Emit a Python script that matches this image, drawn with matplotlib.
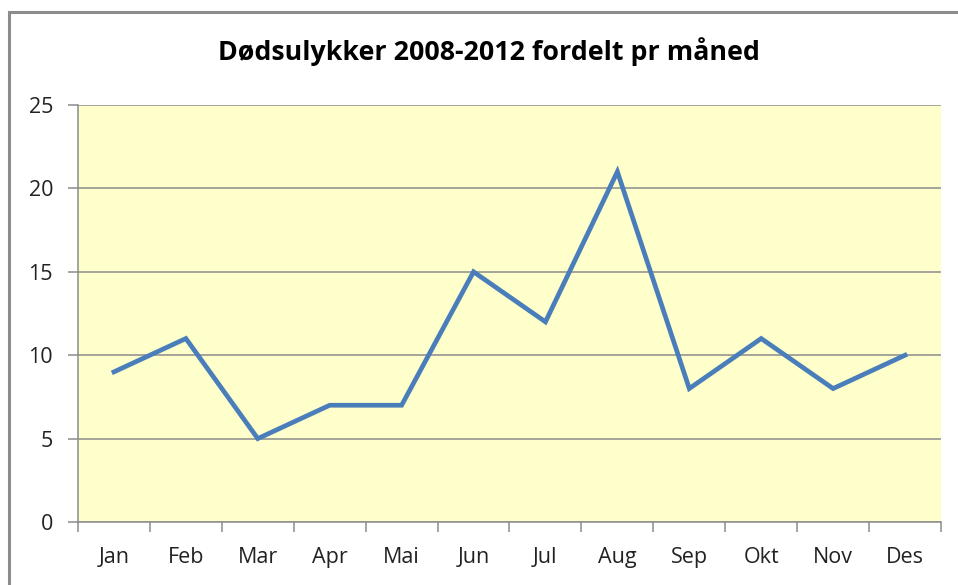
import matplotlib
matplotlib.use("Agg")
import matplotlib.pyplot as plt
from matplotlib.patches import Rectangle

# monthly fatal accidents 2008-2012
months = ["Jan", "Feb", "Mar", "Apr", "Mai", "Jun", "Jul", "Aug", "Sep", "Okt", "Nov", "Des"]
deaths = [9, 11, 5, 7, 7, 15, 12, 21, 8, 11, 8, 10]
yticks = [0, 5, 10, 15, 20, 25]

plt.rcParams["font.family"] = ["Open Sans", "DejaVu Sans"]

fig = plt.figure(figsize=(9.58, 5.85), dpi=100)

# outer chart border (cut off on right and bottom)
fig.patches.append(Rectangle((9 / 958, -0.2), 1.2, 1.2 - 12 / 585,
                             transform=fig.transFigure, fill=False,
                             edgecolor="#8c8c8c", linewidth=2.2))

ax = fig.add_axes([78 / 958, 1 - 522 / 585, (941 - 78) / 958, (522 - 105) / 585])
ax.set_facecolor("#FFFFCC")

x = list(range(len(months)))
ax.plot(x, deaths, color="#4a7ebb", linewidth=3.4, solid_joinstyle="miter", zorder=3)

ax.set_xlim(-0.5, len(months) - 0.5)
ax.set_ylim(0, 25)
ax.set_yticks(yticks)
ax.set_yticklabels([str(v) for v in yticks])
ax.yaxis.grid(True, color="#8c8c8c", linewidth=1.1)
ax.set_axisbelow(True)

# category ticks at boundaries, labels at centers
ax.set_xticks([i - 0.5 for i in range(len(months) + 1)])
ax.set_xticklabels([])
ax.set_xticks(x, minor=True)
ax.set_xticklabels(months, minor=True)
ax.tick_params(axis="x", which="major", length=7, color="#8c8c8c", width=1.1)
ax.tick_params(axis="x", which="minor", length=0, pad=18, labelsize=15.5, labelcolor="#222222")
ax.tick_params(axis="y", length=7, color="#8c8c8c", width=1.1, pad=11, labelsize=15.5, labelcolor="#222222")

for side in ["top", "right"]:
    ax.spines[side].set_visible(False)
for side in ["left", "bottom"]:
    ax.spines[side].set_color("#8c8c8c")
    ax.spines[side].set_linewidth(1.1)

fig.text(489 / 958, 1 - 52 / 585, "Dødsulykker 2008-2012 fordelt pr måned",
         ha="center", va="center", fontsize=19.3, fontweight="bold", color="black")

fig.savefig("out.png", dpi=100)
